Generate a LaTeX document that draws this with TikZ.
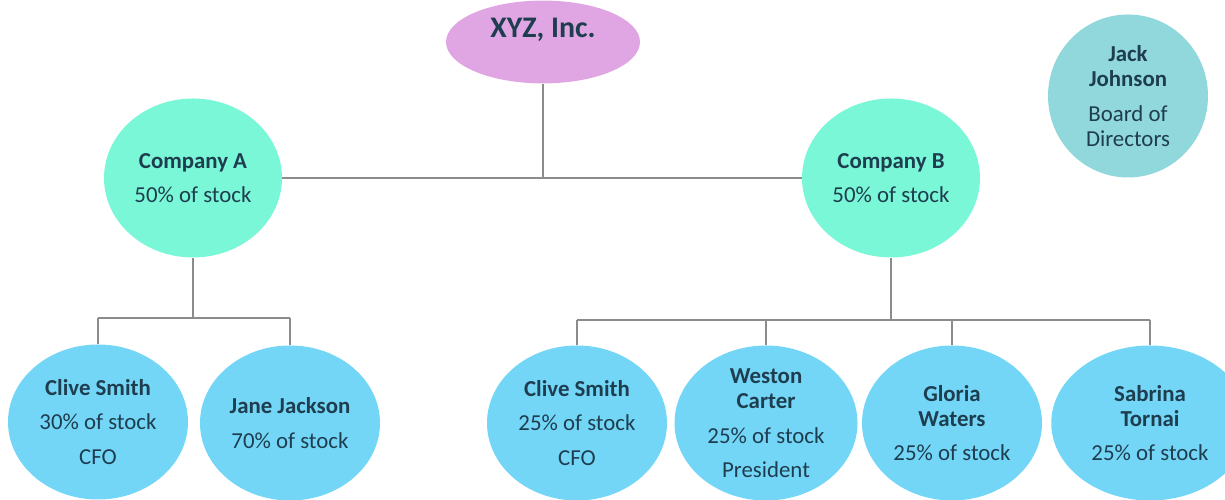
\documentclass[tikz,border=0pt]{standalone}
\usepackage{fontspec}
\setmainfont{Carlito}
\usetikzlibrary{shapes.geometric}
\definecolor{inkblue}{HTML}{1E3D4F}
\definecolor{xyzpink}{HTML}{DFA6E3}
\definecolor{boardteal}{HTML}{91D8DC}
\definecolor{compgreen}{HTML}{7AF7D6}
\definecolor{holderblue}{HTML}{73D6F7}
\definecolor{linegray}{HTML}{8C8C8C}
\tikzset{
	bubble/.style={ellipse, inner sep=0pt, align=center, text=inkblue,
		font=\fontsize{13}{14.5}\selectfont},
	company/.style={bubble, fill=compgreen, minimum width=3.56cm, minimum height=3.18cm},
	holder/.style={bubble, fill=holderblue, minimum width=3.6cm, minimum height=3.1cm},
	link/.style={draw=linegray, line width=0.6pt}
}
\begin{document}
\begin{tikzpicture}
				\useasboundingbox (0,0) rectangle (24.5,10);
				\node[ellipse,
				fill = xyzpink,
				minimum width = 3.88cm,
				minimum height = 1.62cm,
				text = inkblue,
				text depth = 0.55cm,
				font = \bfseries\fontsize{17}{20}\selectfont] (xyz) at (10.86,9.16) {XYZ, Inc.};
				\node[bubble,
				fill = boardteal,
				minimum width = 3.2cm,
				minimum height = 3.26cm] (jack) at (22.56,8.08) {\textbf{Jack}\\\textbf{Johnson}\\[5pt]Board of\\Directors};
				\node[company] (ca) at (3.86,6.44) {\textbf{Company A}\\[5pt]50\% of stock};
				\node[company] (cb) at (17.82,6.44) {\textbf{Company B}\\[5pt]50\% of stock};
				\node[holder] (csa) at (1.96,1.56) {\textbf{Clive Smith}\\[5pt]30\% of stock\\[5pt]CFO};
				\node[holder] (jj) at (5.80,1.54) {\textbf{Jane Jackson}\\[5pt]70\% of stock};
				\node[holder] (csb) at (11.54,1.54) {\textbf{Clive Smith}\\[5pt]25\% of stock\\[5pt]CFO};
				\node[holder, minimum width = 3.66cm] (wc) at (15.32,1.54) {\textbf{Weston}\\\textbf{Carter}\\[5pt]25\% of stock\\[5pt]President};
				\node[holder] (gw) at (19.04,1.54) {\textbf{Gloria}\\\textbf{Waters}\\[5pt]25\% of stock};
				\node[holder, minimum width = 3.95cm] (st) at (23.0,1.54) {\textbf{Sabrina}\\\textbf{Tornai}\\[5pt]25\% of stock};
				\draw[link] (xyz.south) -- (xyz.south |- ca.east);
				\draw[link] (ca.east) -- (cb.west);
				\coordinate (abar) at (3.86,3.64);
				\coordinate (bbar) at (17.82,3.60);
				\draw[link] (ca.south) -- (abar);
				\draw[link] (abar -| csa.north) -- (abar -| jj.north);
				\draw[link] (abar -| csa.north) -- (csa.north);
				\draw[link] (abar -| jj.north) -- (jj.north);
				\draw[link] (cb.south) -- (bbar);
				\draw[link] (bbar -| csb.north) -- (bbar -| st.north);
				\draw[link] (bbar -| csb.north) -- (csb.north);
				\draw[link] (bbar -| wc.north) -- (wc.north);
				\draw[link] (bbar -| gw.north) -- (gw.north);
				\draw[link] (bbar -| st.north) -- (st.north);
\end{tikzpicture}
\end{document}
